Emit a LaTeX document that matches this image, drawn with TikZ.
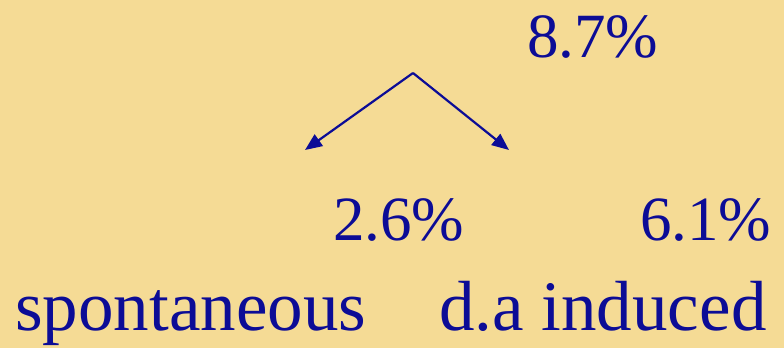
\documentclass[tikz,border=0pt]{standalone}
\usepackage{fontspec}
\setmainfont{Liberation Serif}
\definecolor{bgyellow}{HTML}{F5DB95}
\definecolor{txtblue}{HTML}{0C0C96}
\usetikzlibrary{arrows.meta}
\begin{document}
\begin{tikzpicture}[x=1pt,y=-1pt,
  lbl/.style={anchor=base west,inner sep=0pt,text=txtblue},
  numfont/.style={font=\fontsize{63}{70}\selectfont},
  wordfont/.style={font=\fontsize{71}{78}\selectfont},
  arr/.style={draw=txtblue,line width=2.2pt,-{Triangle[length=17pt,width=14pt]}}]
\fill[bgyellow] (0,0) rectangle (784,348);
\useasboundingbox (0,0) rectangle (784,348);
\node[lbl,numfont] (total) at (527,57) {8.7\%};
\node[lbl,numfont] (spon) at (333,240) {2.6\%};
\node[lbl,numfont] (ind) at (640,240) {6.1\%};
\node[lbl,wordfont] (sponlabel) at (15,330) {spontaneous};
\node[lbl,wordfont] (indlabel) at (439,330) {d.a induced};
\coordinate (apex) at (413,73);
\coordinate (lefttip) at (305,150);
\coordinate (righttip) at (509,150);
\draw[arr] (apex) -- (lefttip);
\draw[arr] (apex) -- (righttip);
\end{tikzpicture}
\end{document}
